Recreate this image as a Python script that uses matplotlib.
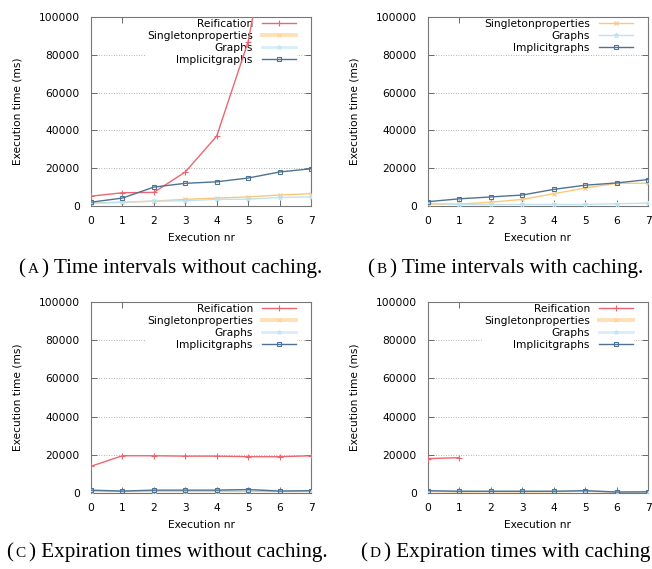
import numpy as np
import matplotlib
matplotlib.use('Agg')
import matplotlib.pyplot as plt

# Execution runs 0..7
runs = [0, 1, 2, 3, 4, 5, 6, 7]

# (A) time intervals without caching
a_reification = [5200, 7000, 7200, 18000, 37000, 87000, 175000, 260000]
a_singleton = [1500, 2000, 2600, 3500, 4200, 4800, 5800, 6500]
a_graphs = [1400, 2000, 2500, 2800, 3500, 3600, 4500, 4800]
a_implicit = [2000, 4200, 10000, 12000, 12800, 14800, 18000, 19700]

# (B) time intervals with caching
b_singleton = [1000, 1000, 2000, 3500, 6500, 9500, 12000, 12000]
b_graphs = [1500, 800, 800, 800, 800, 800, 1200, 1500]
b_implicit = [2300, 3800, 4800, 5800, 8800, 11000, 12200, 14000]

# (C) expiration times without caching
c_reification = [14000, 19500, 19500, 19300, 19300, 19000, 19000, 19500]
c_singleton = [800, 800, 800, 800, 800, 800, 800, 800]
c_graphs = [1200, 1200, 1200, 1200, 1200, 1800, 1200, 1200]
c_implicit = [1500, 1000, 1500, 1500, 1500, 1800, 1000, 1200]

# (D) expiration times with caching
d_reification = [18000, 18500, np.nan, np.nan, np.nan, np.nan, np.nan, np.nan]
d_singleton = [800, 600, 700, 600, 700, 900, 500, 500]
d_graphs = [1100, 900, 900, 900, 900, 1100, 600, 700]
d_implicit = [1200, 900, 900, 900, 900, 1200, 500, 600]

cap_letters = ['A', 'B', 'C', 'D']
cap_texts = ['Time intervals without caching.', 'Time intervals with caching.',
             'Expiration times without caching.', 'Expiration times with caching']

styles = {
    'Reification': dict(color='#ec6670', marker='+', ms=4, lw=1.0),
    'Singletonproperties': dict(color='#fcc878', marker='x', ms=3.5, lw=1.0),
    'Graphs': dict(color='#bfe2f0', marker='*', ms=3.5, lw=1.0),
    'Implicitgraphs': dict(color='#4f7394', marker='s', ms=3.5, lw=1.0, mfc='none'),
}

W, H = 652, 569
fig = plt.figure(figsize=(W / 100, H / 100), dpi=100)
fig.patch.set_facecolor('white')

tick_fs = 7.7


def make_axes(left, top, right, bottom):
    return fig.add_axes([left / W, 1 - bottom / H, (right - left) / W, (bottom - top) / H])


panels = [
    (make_axes(91, 17, 311, 206), [('Reification', a_reification), ('Singletonproperties', a_singleton),
                                   ('Graphs', a_graphs), ('Implicitgraphs', a_implicit)], True),
    (make_axes(428, 17, 648, 206), [('Singletonproperties', b_singleton),
                                    ('Graphs', b_graphs), ('Implicitgraphs', b_implicit)], False),
    (make_axes(91, 302, 311, 493), [('Reification', c_reification), ('Singletonproperties', c_singleton),
                                    ('Graphs', c_graphs), ('Implicitgraphs', c_implicit)], True),
    (make_axes(428, 302, 648, 493), [('Reification', d_reification), ('Singletonproperties', d_singleton),
                                     ('Graphs', d_graphs), ('Implicitgraphs', d_implicit)], True),
]

for ax, series, thick_keys in panels:
    for name, vals in series:
        ax.plot(runs, vals, label=name, mew=0.8, zorder=3, **styles[name])
    ax.set_xlim(0, 7)
    ax.set_ylim(0, 100000)
    ax.set_xticks(runs)
    ax.set_yticks([0, 20000, 40000, 60000, 80000, 100000])
    ax.yaxis.grid(True, linestyle=(0, (1, 2)), color='#999999', linewidth=0.6)
    ax.set_axisbelow(True)
    ax.tick_params(direction='in', top=True, right=True, length=4, width=0.6,
                   labelsize=tick_fs, color='#555555')
    ax.tick_params(axis='y', pad=8)
    ax.tick_params(axis='x', pad=7)
    for sp in ax.spines.values():
        sp.set_color('#777777')
        sp.set_linewidth(0.8)
    ax.set_xlabel('Execution nr', fontsize=tick_fs, labelpad=5)
    ax.set_ylabel('Execution time (ms)', fontsize=tick_fs, labelpad=12)
    leg = ax.legend(loc='upper right', bbox_to_anchor=((295 - 91) / 220 + 0.01, 1.0),
                    fontsize=tick_fs, markerfirst=False, frameon=True,
                    handlelength=3.1, labelspacing=0.2, borderpad=0.15, borderaxespad=0.0,
                    handletextpad=0.9)
    leg.set_zorder(2)
    leg.get_frame().set_edgecolor('none')
    leg.get_frame().set_facecolor('white')
    leg.get_frame().set_alpha(1)
    for t in leg.get_texts():
        t.set_ha('right')
    leg._legend_box.align = 'right'
    if thick_keys:
        # the key lines for these two look wide and washed out in the original
        for h, t in zip(leg.legend_handles, leg.get_texts()):
            if t.get_text() == 'Singletonproperties':
                h.set_linewidth(2.8)
                h.set_alpha(0.55)
            elif t.get_text() == 'Graphs':
                h.set_linewidth(2.0)
                h.set_alpha(0.6)

# captions with small-caps panel letters
renderer = fig.canvas.get_renderer()
cap_pos = [(170, 268), (505, 268), (167, 552), (505, 552)]
cap_fs = 15.2
for (cx, cy), letter, text in zip(cap_pos, cap_letters, cap_texts):
    pieces = [('(', cap_fs), ('\u2009' + letter + '\u2009', cap_fs * 0.72), (') ' + text, cap_fs)]
    objs = [fig.text(0, 0, s, fontsize=fs, family='Liberation Serif', va='baseline', ha='left')
            for s, fs in pieces]
    widths = [o.get_window_extent(renderer).width for o in objs]
    x = cx - sum(widths) / 2
    for o, w in zip(objs, widths):
        o.set_position((x / W, 1 - (cy + 5) / H))
        x += w

fig.savefig('out.png', dpi=100)
